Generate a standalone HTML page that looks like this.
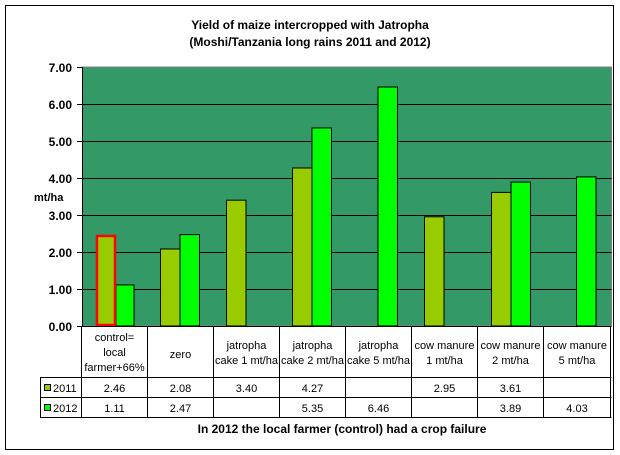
<!DOCTYPE html>
<html><head><style>
body{margin:0;background:#fff;}
svg{display:block;font-family:"Liberation Sans",Arial,sans-serif;}
</style></head><body>
<svg width="620" height="455" viewBox="0 0 620 455" xmlns="http://www.w3.org/2000/svg">
<rect x="5.5" y="5.5" width="608" height="444" fill="#fff" stroke="#000" stroke-width="1"/>
<text x="310" y="29" text-anchor="middle" font-size="12" font-weight="bold">Yield of maize intercropped with Jatropha</text>
<text x="310" y="46" text-anchor="middle" font-size="12" font-weight="bold">(Moshi/Tanzania long rains 2011 and 2012)</text>
<rect x="82.5" y="67" width="529" height="259" fill="#339966" stroke="#808080" stroke-width="1"/>
<g stroke="#000" stroke-width="1">
<line x1="82.5" x2="611.5" y1="104.5" y2="104.5"/>
<line x1="82.5" x2="611.5" y1="141.5" y2="141.5"/>
<line x1="82.5" x2="611.5" y1="178.5" y2="178.5"/>
<line x1="82.5" x2="611.5" y1="215.5" y2="215.5"/>
<line x1="82.5" x2="611.5" y1="252.5" y2="252.5"/>
<line x1="82.5" x2="611.5" y1="289.5" y2="289.5"/>
<line x1="82.5" x2="82.5" y1="67" y2="326"/>
<line x1="77" x2="82.5" y1="67.5" y2="67.5"/>
<line x1="77" x2="82.5" y1="104.5" y2="104.5"/>
<line x1="77" x2="82.5" y1="141.5" y2="141.5"/>
<line x1="77" x2="82.5" y1="178.5" y2="178.5"/>
<line x1="77" x2="82.5" y1="215.5" y2="215.5"/>
<line x1="77" x2="82.5" y1="252.5" y2="252.5"/>
<line x1="77" x2="82.5" y1="289.5" y2="289.5"/>
<line x1="77" x2="82.5" y1="326.5" y2="326.5"/>
</g>
<g font-size="12" font-weight="bold" text-anchor="end">
<text x="72" y="72">7.00</text><text x="72" y="109">6.00</text><text x="72" y="146">5.00</text>
<text x="72" y="183">4.00</text><text x="72" y="220">3.00</text><text x="72" y="257">2.00</text>
<text x="72" y="294">1.00</text><text x="72" y="331">0.00</text>
</g>
<text x="34" y="201" font-size="11" font-weight="bold">mt/ha</text>
<g stroke="#000" stroke-width="1">
<rect x="160.5" y="249" width="19.5" height="77" fill="#99cc00"/>
<rect x="180" y="234.6" width="19.5" height="91.4" fill="#00ff00"/>
<rect x="226.5" y="200.2" width="19.5" height="125.8" fill="#99cc00"/>
<rect x="292.5" y="168" width="19.5" height="158" fill="#99cc00"/>
<rect x="312" y="128" width="19.5" height="198" fill="#00ff00"/>
<rect x="378" y="87" width="19.5" height="239" fill="#00ff00"/>
<rect x="424.5" y="216.8" width="19.5" height="109.2" fill="#99cc00"/>
<rect x="491.5" y="192.4" width="19.5" height="133.6" fill="#99cc00"/>
<rect x="511" y="182.1" width="19.5" height="143.9" fill="#00ff00"/>
<rect x="576.5" y="176.9" width="19.5" height="149.1" fill="#00ff00"/>
<rect x="116" y="284.9" width="18" height="41.1" fill="#00ff00"/>
</g>
<rect x="97" y="236" width="18" height="89" fill="#99cc00" stroke="#ff0000" stroke-width="2.5"/>
<g stroke="#000" stroke-width="1" fill="none">
<line x1="82.5" x2="611.5" y1="326.5" y2="326.5"/>
<line x1="40.5" x2="611.5" y1="377.5" y2="377.5"/>
<line x1="40.5" x2="611.5" y1="397.5" y2="397.5"/>
<line x1="40.5" x2="611.5" y1="417.5" y2="417.5"/>
<line x1="40.5" x2="40.5" y1="377" y2="418"/>
<line x1="81.5" x2="81.5" y1="326" y2="418"/>
<line x1="147.5" x2="147.5" y1="326" y2="418"/>
<line x1="213.5" x2="213.5" y1="326" y2="418"/>
<line x1="279.5" x2="279.5" y1="326" y2="418"/>
<line x1="345.5" x2="345.5" y1="326" y2="418"/>
<line x1="411.5" x2="411.5" y1="326" y2="418"/>
<line x1="477.5" x2="477.5" y1="326" y2="418"/>
<line x1="543.5" x2="543.5" y1="326" y2="418"/>
<line x1="610.5" x2="610.5" y1="326" y2="418"/>
</g>
<g font-size="11" text-anchor="middle">
<text x="114.5" y="341">control=</text><text x="114.5" y="356">local</text><text x="114.5" y="371">farmer+66%</text>
<text x="180.5" y="358">zero</text>
<text x="246.5" y="349">jatropha</text><text x="246.5" y="364">cake 1 mt/ha</text>
<text x="312.5" y="349">jatropha</text><text x="312.5" y="364">cake 2 mt/ha</text>
<text x="378.5" y="349">jatropha</text><text x="378.5" y="364">cake 5 mt/ha</text>
<text x="444.5" y="349">cow manure</text><text x="444.5" y="364">1 mt/ha</text>
<text x="510.5" y="349">cow manure</text><text x="510.5" y="364">2 mt/ha</text>
<text x="577" y="349">cow manure</text><text x="577" y="364">5 mt/ha</text>
<text x="114.5" y="392">2.46</text><text x="180.5" y="392">2.08</text><text x="246.5" y="392">3.40</text>
<text x="312.5" y="392">4.27</text><text x="444.5" y="392">2.95</text><text x="510.5" y="392">3.61</text>
<text x="114.5" y="412">1.11</text><text x="180.5" y="412">2.47</text><text x="312.5" y="412">5.35</text>
<text x="378.5" y="412">6.46</text><text x="510.5" y="412">3.89</text><text x="577" y="412">4.03</text>
</g>
<rect x="44.5" y="384.5" width="6" height="6" fill="#99cc00" stroke="#000"/>
<rect x="44.5" y="404.5" width="6" height="6" fill="#00ff00" stroke="#000"/>
<text x="53" y="392" font-size="11">2011</text>
<text x="53" y="412" font-size="11">2012</text>
<text x="342" y="433" text-anchor="middle" font-size="12" font-weight="bold">In 2012 the local farmer (control) had a crop failure</text>
</svg>
</body></html>
